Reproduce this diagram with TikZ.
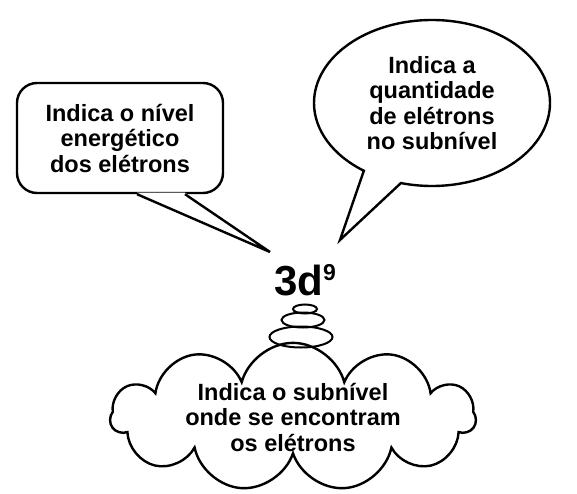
\documentclass[tikz,border=0pt]{standalone}
\usepackage{fontspec}
\setmainfont{Liberation Sans}
\usetikzlibrary{shapes.callouts,shapes.symbols,shapes.geometric,calc}
\begin{document}
\begin{tikzpicture}[x=1pt,y=-1pt,line width=2.4pt,every node/.style={align=center,font=\fontsize{23.5}{25.5}\selectfont\bfseries},bubble/.style={draw,ellipse,inner sep=0pt,line width=2pt}]
    \useasboundingbox (0,0) rectangle (577,494);
    \node[anchor=base west,inner sep=0pt] (num) at (273,295) {\fontsize{42}{42}\selectfont 3d\raisebox{15pt}{\fontsize{23}{23}\selectfont 9}};
    \coordinate (tl) at (270,252);
    \coordinate (tr) at (340,240);
    \node[draw,rounded corners=20pt,minimum width=206,minimum height=110] (nivel) at (120,138) {Indica o nível\\energético\\dos elétrons};
    \fill[white] ($(nivel.south)+(17,-1.5)$) -- (tl) -- ($(nivel.south)+(65,-1.5)$) -- cycle;
    \draw ($(nivel.south)+(17,0)$) -- (tl) -- ($(nivel.south)+(65,0)$);
    \node[ellipse callout,draw,minimum width=236,minimum height=166,callout absolute pointer={(tr)},callout pointer arc=20] (qtd) at (432,103) {Indica a\\quantidade\\de elétrons\\no subnível};
    \node[cloud,draw,cloud puffs=11,aspect=2.7,minimum width=365,minimum height=111,inner sep=-16pt] (sub) at (293,417) {Indica o subnível\\onde se encontram\\os elétrons};
    \node[bubble,minimum width=63,minimum height=21] (b1) at (301,337) {};
    \node[bubble,minimum width=43,minimum height=15] (b2) at (303,320) {};
    \node[bubble,minimum width=24,minimum height=9] (b3) at (305,309) {};
  \end{tikzpicture}
\end{document}
